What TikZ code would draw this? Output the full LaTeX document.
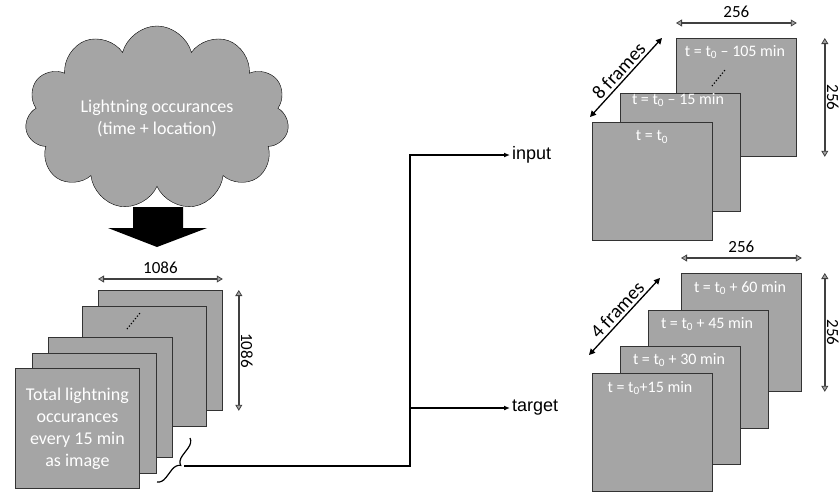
\documentclass[tikz,border=0pt]{standalone}
\usepackage{fontspec}
\setmainfont{Carlito}
\newfontfamily\arialfont{Liberation Sans}
\usetikzlibrary{shapes.symbols,arrows.meta,decorations.pathreplacing,positioning}
\definecolor{framegray}{RGB}{165,165,165}
\definecolor{dimgray}{RGB}{64,64,64}

\begin{document}
\begin{tikzpicture}[
    x=1pt, y=-1pt,
    bigframe/.style = {
      draw=black!80, fill=framegray, line width=0.8pt,
      minimum width=124pt, minimum height=120pt,
      anchor=north west, inner sep=0pt
    },
    smallframe/.style = {bigframe, minimum width=120pt, minimum height=118pt},
    frametext/.style = {text=white, font=\fontsize{16}{20}\selectfont, inner sep=0pt},
    dim/.style = {
      draw=dimgray, line width=1.6pt,
      {Triangle[length=6pt,width=7pt,fill=framegray,line width=0.8pt]}-{Triangle[length=6pt,width=7pt,fill=framegray,line width=0.8pt]}
    },
    dimtext/.style = {font=\fontsize{17}{20}\selectfont},
    sidetext/.style = {dimtext, anchor=south, rotate=-90, inner sep=1.5pt},
    stacktext/.style = {font=\fontsize{19.5}{22}\selectfont, inner sep=2.5pt},
    stackarrow/.style = {draw=black, line width=1.3pt, {Triangle[length=6pt,width=6pt]}-{Triangle[length=6pt,width=6pt]}},
    conn/.style = {draw=black, line width=1.2pt, -{Latex[length=6pt,width=5pt]}},
    outtext/.style = {font=\arialfont\fontsize{18}{20}\selectfont, anchor=west, inner sep=2pt}
  ]
  \useasboundingbox (0,0) rectangle (839,493);

  % source
  \node[cloud, cloud puffs=11, aspect=1.6, draw=black, fill=framegray,
        minimum width=264pt, minimum height=164pt, text=white, align=center,
        font=\fontsize{18}{22}\selectfont] (cloud) at (157,118)
        {Lightning occurances\\(time + location)};
  \fill (133,207) -- (183,207) -- (183,228) -- (207,228) -- (157,247)
        -- (108,228) -- (133,228) -- cycle;

  % image stack
  \node[bigframe] (L5) at (98,290) {};
  \node[bigframe] (L4) at (82,306) {};
  \draw[dotted, line width=1.2pt] (127,329) -- (140,313);
  \node[bigframe] (L3) at (48,337) {};
  \node[bigframe] (L2) at (32,353) {};
  \node[bigframe, text=white, align=center, font=\fontsize{18}{22}\selectfont] (L1) at (15,368)
        {Total lightning\\occurances\\every 15 min\\as image};
  \draw[dim] ([yshift=11pt]L5.north west) -- node[above=1pt, dimtext] {1086} ([yshift=11pt]L5.north east);
  \draw[dim] ([xshift=16pt]L5.north east) -- node[sidetext] {1086} ([xshift=16pt]L5.south east);

  % input frames
  \node[smallframe] (F3) at (676,38) {};
  \node[frametext] at (735,52) {t = t\textsubscript{0} – 105 min};
  \draw[dotted, line width=1.2pt] (712,86) -- (725,70);
  \node[smallframe] (F2) at (620,93) {};
  \node[frametext] at (678,100) {t = t\textsubscript{0} – 15 min};
  \node[smallframe] (F1) at (592,122) {};
  \node[frametext] at (652,137) {t = t\textsubscript{0}};
  \draw[dim] ([yshift=15pt]F3.north west) -- node[above=1pt, dimtext] {256} ([yshift=15pt]F3.north east);
  \draw[dim] ([xshift=28pt]F3.north east) -- node[sidetext] {256} ([xshift=28pt]F3.south east);
  \draw[stackarrow] (590,117) -- node[above, sloped, stacktext] {8 frames} (662,38);

  % target frames
  \node[smallframe] (G4) at (681,273) {};
  \node[frametext] at (740,288) {t = t\textsubscript{0} + 60 min};
  \node[smallframe] (G3) at (648,310) {};
  \node[frametext] at (707,324) {t = t\textsubscript{0} + 45 min};
  \node[smallframe] (G2) at (620,346) {};
  \node[frametext] at (679,360) {t = t\textsubscript{0} + 30 min};
  \node[smallframe] (G1) at (592,373) {};
  \node[frametext] at (650,388) {t = t\textsubscript{0}+15 min};
  \draw[dim] ([yshift=15pt]G4.north west) -- node[above=1pt, dimtext] {256} ([yshift=15pt]G4.north east);
  \draw[dim] ([xshift=23pt]G4.north east) -- node[sidetext] {256} ([xshift=23pt]G4.south east);
  \draw[stackarrow] (589,355) -- node[above, sloped, stacktext] {4 frames} (660,278);

  % split into input and target
  \draw[decorate, decoration={brace, amplitude=9pt}, line width=1.2pt] (190,438) -- (157,482);
  \coordinate (bracetip) at (184,466);
  \coordinate (split) at (410,466);
  \node[outtext] (input) at (510,155) {input};
  \node[outtext] (target) at (510,408) {target};
  \draw[conn] (bracetip) -- (split) |- (input.west);
  \draw[conn] (split |- target.west) -- (target.west);
\end{tikzpicture}
\end{document}
